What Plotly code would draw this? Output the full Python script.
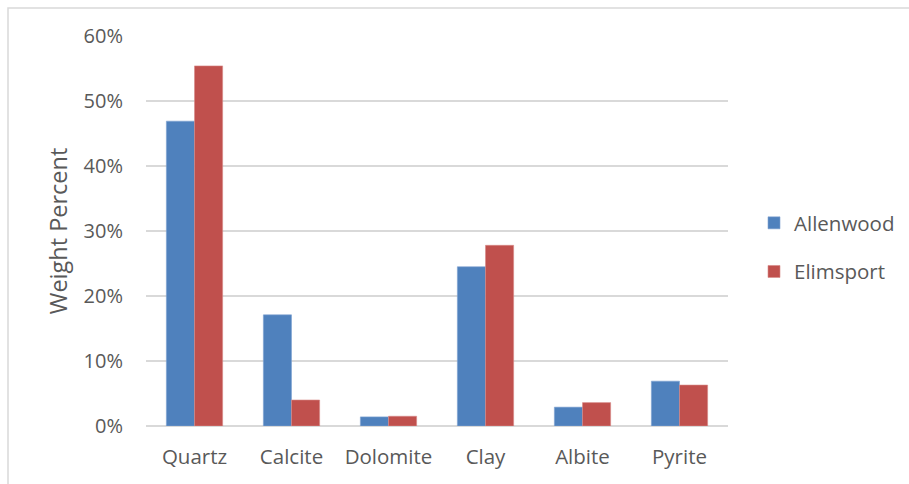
import plotly.graph_objects as go

categories = ["Quartz", "Calcite", "Dolomite", "Clay", "Albite", "Pyrite"]
allenwood = [46.9, 17.1, 1.4, 24.5, 2.9, 6.9]
elimsport = [55.4, 4.0, 1.5, 27.8, 3.6, 6.3]
y_ticks = [0, 10, 20, 30, 40, 50, 60]
y_tick_labels = ["0%", "10%", "20%", "30%", "40%", "50%", "60%"]

FONT = "Open Sans"
GRAY = "#595959"

fig = go.Figure()
fig.add_trace(go.Bar(x=categories, y=allenwood, name="Allenwood", legendgroup="a",
                     marker=dict(color="#4F81BD", line=dict(color="#7FA3D1", width=0.6))))
fig.add_trace(go.Bar(x=categories, y=elimsport, name="Elimsport", legendgroup="b",
                     marker=dict(color="#C0504D", line=dict(color="#D68A88", width=0.6))))

W, H = 909, 484
L, R, T, B = 146, 728, 36, 426
pw, ph = R - L, B - T

def px(x):
    return (x - L) / pw

def py(y):
    return (B - y) / ph

fig.update_layout(
    width=W, height=H,
    margin=dict(l=L, r=W - R, t=T, b=H - B, pad=0, autoexpand=False),
    paper_bgcolor="white", plot_bgcolor="white",
    barmode="group", bargap=0.42, bargroupgap=0,
    font=dict(family=FONT, color=GRAY, size=20),
    showlegend=True,
    legend=dict(x=px(754), y=py(247.5), xanchor="left", yanchor="middle",
                font=dict(size=20.5, color=GRAY), tracegroupgap=19,
                traceorder="grouped", itemwidth=30, bgcolor="rgba(0,0,0,0)"),
    xaxis=dict(showgrid=False, showline=False, zeroline=False, ticks="",
               tickfont=dict(size=20.5, color=GRAY), ticklabelstandoff=16,
               fixedrange=True),
    yaxis=dict(range=[0, 60], tickmode="array", tickvals=y_ticks, ticktext=y_tick_labels,
               showgrid=True, gridcolor="#D9D9D9", gridwidth=1.5,
               zeroline=True, zerolinecolor="#D9D9D9", zerolinewidth=1.5,
               showline=False, ticks="", ticklabelstandoff=22,
               tickfont=dict(size=20, color=GRAY),
               title=dict(text="Weight Percent", font=dict(size=23.5, color=GRAY), standoff=9),
               fixedrange=True),
    shapes=[dict(type="rect", xref="paper", yref="paper",
                 x0=px(8), x1=px(915), y0=py(490), y1=py(8),
                 line=dict(color="#D9D9D9", width=1.5), fillcolor="rgba(0,0,0,0)", layer="below")],
)

fig.write_html("out.html")
